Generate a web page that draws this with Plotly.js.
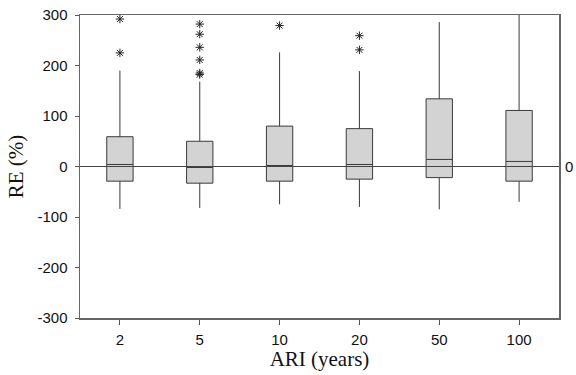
<!DOCTYPE html>
<html><head><meta charset="utf-8">
<script src="https://cdn.plot.ly/plotly-3.0.1.min.js"></script>
<style>html,body{margin:0;padding:0;background:#fff}#c{width:576px;height:375px}</style>
</head><body><div id="c"></div>
<script>
const categories = ["2","5","10","20","50","100"];
const q1 = [-29, -33, -29, -25, -22, -29];
const medians = [4, -2, 2, 4, 14, 10];
const q3 = [59, 50, 80, 75, 134, 111];
const lowerWhisker = [-84, -82, -75, -80, -85, -70];
const upperWhisker = [190, 168, 226, 189, 286, 310];
const outlierCat = ["2","2","5","5","5","5","5","5","10","20","20"];
const outlierVal = [292, 225, 282, 262, 236, 211, 185, 182, 279, 259, 231];
const yTicks = [-300,-200,-100,0,100,200,300];
const yTickText = ["-300","-200","-100","0","100","200","300"];

const traces = [{
  type: 'box', x: categories, q1: q1, median: medians, q3: q3,
  lowerfence: lowerWhisker, upperfence: upperWhisker,
  width: 0.33, whiskerwidth: 0, fillcolor: '#d3d3d3',
  line: {color: '#3a3a3a', width: 1}, boxpoints: false, showlegend: false, hoverinfo: 'skip'
},{
  type: 'scatter', mode: 'markers', x: outlierCat, y: outlierVal,
  marker: {symbol: 'asterisk-open', size: 7, color: '#222', line: {color: '#222', width: 1}},
  showlegend: false, cliponaxis: true
}];

const layout = {
  width: 576, height: 375,
  margin: {l: 80, r: 17, t: 15, b: 57},
  paper_bgcolor: '#fff', plot_bgcolor: '#fff',
  font: {family: 'Liberation Sans, Arial, sans-serif', size: 15, color: '#111'},
  xaxis: {
    type: 'category', range: [-0.5, 5.5], categoryorder: 'array', categoryarray: categories,
    showline: true, mirror: true, linecolor: '#666', linewidth: 1.5,
    ticks: 'outside', ticklen: 5, tickcolor: '#555', showgrid: false, zeroline: false,
    tickfont: {size: 15}, ticklabelstandoff: 2,
    title: {text: 'ARI (years)', font: {family: 'Liberation Serif, Times New Roman, serif', size: 21}, standoff: 4}
  },
  yaxis: {
    range: [-300, 300], tickvals: yTicks, ticktext: yTickText,
    showline: true, mirror: true, linecolor: '#666', linewidth: 1.5,
    ticks: 'outside', ticklen: 4, tickcolor: '#555', showgrid: false, zeroline: false,
    tickfont: {size: 15}, ticklabelstandoff: 4,
    title: {text: 'RE (%)', font: {family: 'Liberation Serif, Times New Roman, serif', size: 21}, standoff: 8}
  },
  shapes: [{type: 'line', xref: 'paper', x0: 0, x1: 1, yref: 'y', y0: 0, y1: 0,
    line: {color: '#444', width: 1}, layer: 'above'}],
  annotations: [{xref: 'paper', x: 1, xanchor: 'left', xshift: 4, yref: 'y', y: 0,
    text: '0', showarrow: false, font: {size: 15, color: '#111'}}]
};
Plotly.newPlot('c', traces, layout, {displayModeBar: false, staticPlot: true});
</script></body></html>
